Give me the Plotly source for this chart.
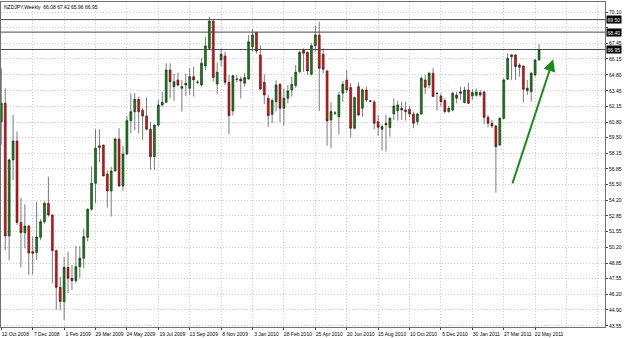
import pandas as pd
import plotly.graph_objects as go

start_date = "2008-10-12"
opens = [60.84, 62.39, 51.16, 57.6, 59.2, 52.3, 51.44, 52.0, 49.83, 49.75,
         51.05, 52.37, 53.92, 52.94, 49.92, 46.81, 45.6, 48.5, 47.58, 47.37,
         48.56, 49.27, 51.05, 53.42, 55.62, 58.64, 58.86, 56.41, 54.97, 56.66,
         59.37, 55.39, 58.1, 60.92, 61.68, 62.73, 61.8, 61.32, 60.2, 57.87,
         60.55, 62.25, 62.48, 65.21, 63.8, 64.37, 63.66, 63.94, 63.66, 64.65,
         64.2, 63.94, 65.55, 67.05, 69.36, 64.03, 66.06, 66.4, 64.17, 61.74,
         64.45, 64.45, 64.09, 64.45, 67.19, 68.4, 66.48, 64.17, 62.82, 61.46,
         62.53, 64.0, 61.97, 62.82, 63.52, 63.89, 65.07, 66.91, 66.71, 64.85,
         67.27, 68.18, 66.54, 65.13, 60.98, 61.55, 61.26, 63.24, 64.37, 63.72,
         60.28, 63.8, 61.97, 63.52, 62.6, 62.5, 60.84, 60.19, 60.7, 60.33,
         61.49, 61.77, 61.97, 61.83, 61.88, 61.49, 60.84, 61.49, 64.37, 63.94,
         64.93, 63.24, 63.01, 62.62, 61.69, 61.83, 63.1, 63.38, 62.45, 63.52,
         63.01, 63.07, 63.1, 63.35, 61.21, 60.7, 60.47, 58.86, 61.12, 64.42,
         66.49, 66.49, 65.44, 65.55, 63.66, 63.38, 64.79, 66.08]
highs = [65.36, 63.66, 57.7, 61.4, 60.0, 54.4, 53.84, 52.1, 51.1, 54.06,
         52.6, 54.1, 56.18, 53.0, 50.0, 47.71, 49.4, 49.83, 48.7, 50.31,
         50.3, 51.81, 53.5, 57.03, 60.19, 60.2, 58.9, 56.7, 57.0, 59.5,
         60.28, 58.8, 61.32, 63.24, 63.24, 62.95, 62.0, 62.9, 60.8, 60.6,
         62.7, 63.38, 65.78, 65.78, 64.9, 65.0, 64.37, 64.9, 65.36, 65.5,
         64.35, 66.2, 68.04, 69.73, 69.45, 65.86, 67.05, 66.77, 64.79, 64.8,
         64.79, 64.65, 64.93, 68.18, 68.69, 68.45, 67.3, 64.85, 63.1, 62.82,
         64.35, 64.1, 63.66, 63.94, 64.65, 65.64, 66.82, 67.05, 66.77, 67.47,
         68.97, 69.31, 67.05, 65.2, 62.48, 61.74, 63.38, 64.28, 65.2, 64.09,
         62.96, 64.17, 63.66, 63.8, 62.67, 62.67, 61.4, 60.6, 61.4, 61.25,
         62.8, 62.62, 62.53, 62.53, 62.17, 61.69, 61.6, 64.65, 64.79, 65.07,
         65.36, 63.38, 63.24, 62.82, 62.17, 63.38, 63.38, 63.8, 63.8, 64.14,
         63.58, 63.66, 63.52, 63.47, 61.4, 60.98, 60.56, 61.21, 64.51, 66.63,
         66.57, 66.57, 65.78, 65.64, 64.37, 65.07, 66.12, 67.42]
lows = [58.86, 49.97, 49.1, 55.9, 52.1, 48.5, 50.11, 47.86, 47.9, 49.1,
        50.8, 52.2, 52.8, 47.15, 44.9, 44.9, 44.05, 46.31, 46.6, 47.15,
        47.58, 48.42, 50.7, 53.3, 53.95, 57.4, 56.2, 53.56, 52.8, 56.6,
        55.3, 55.0, 58.0, 59.85, 60.1, 59.85, 59.29, 60.1, 56.75, 56.75,
        60.4, 62.1, 62.4, 62.82, 62.6, 63.8, 61.68, 63.0, 63.1, 62.96,
        64.0, 63.8, 65.2, 66.9, 64.23, 63.15, 65.5, 63.94, 59.77, 61.35,
        64.17, 62.8, 63.8, 64.4, 66.77, 66.62, 63.5, 62.31, 60.4, 60.7,
        61.69, 60.78, 60.5, 62.4, 62.96, 63.7, 64.93, 65.07, 64.79, 64.75,
        66.77, 61.74, 64.93, 58.81, 58.58, 61.4, 59.77, 62.53, 63.3, 59.48,
        60.2, 61.3, 61.26, 62.5, 62.48, 60.2, 59.63, 58.4, 58.3, 59.57,
        60.98, 60.93, 60.98, 60.93, 61.21, 60.28, 60.55, 61.4, 63.18, 63.66,
        62.96, 61.77, 62.11, 61.55, 61.6, 61.69, 62.39, 62.67, 62.39, 62.33,
        62.67, 62.96, 62.96, 60.64, 60.36, 60.28, 54.83, 58.78, 61.04, 64.37,
        64.37, 64.37, 64.65, 62.45, 63.1, 62.53, 64.65, 65.96]
closes = [62.39, 51.16, 57.6, 59.2, 52.3, 51.44, 52.0, 49.72, 49.69, 51.07,
          52.37, 53.92, 52.94, 49.92, 46.81, 45.6, 48.5, 47.58, 47.37, 48.56,
          49.27, 51.1, 53.42, 55.62, 58.58, 58.8, 56.24, 54.97, 56.66, 59.37,
          55.39, 58.1, 60.92, 61.68, 62.73, 61.68, 61.32, 60.2, 57.87, 60.55,
          62.24, 62.48, 65.21, 64.22, 64.22, 63.94, 63.8, 64.1, 64.65, 64.37,
          64.17, 65.78, 67.25, 69.36, 64.57, 65.02, 66.54, 64.17, 61.35, 64.73,
          64.42, 64.28, 64.57, 67.6, 68.18, 66.82, 63.6, 63.1, 61.35, 62.62,
          63.94, 61.97, 62.82, 63.44, 64.0, 65.02, 66.71, 66.63, 65.13, 67.27,
          68.18, 65.35, 65.27, 60.9, 61.69, 61.58, 63.1, 64.0, 63.52, 60.28,
          62.87, 61.4, 63.52, 62.67, 62.57, 60.7, 60.36, 60.42, 60.56, 61.12,
          62.17, 62.25, 61.83, 61.69, 61.49, 60.7, 61.49, 64.51, 63.75, 64.93,
          62.96, 63.22, 62.53, 61.69, 61.97, 63.24, 62.82, 63.24, 63.52, 62.39,
          63.3, 63.35, 63.3, 61.21, 60.7, 60.47, 58.72, 61.12, 64.37, 66.2,
          66.34, 65.5, 65.64, 63.58, 63.47, 64.93, 66.06, 66.95]

y_ticks = [70.10, 68.80, 67.45, 66.15, 64.80, 63.45, 62.15, 60.80, 59.50, 58.15,
           56.85, 55.50, 54.20, 52.85, 51.55, 50.20, 48.85, 47.55, 46.20, 44.90, 43.55]
hidden_ticks = [68.80]
levels = [69.48, 68.42, 66.95]
level_labels = ["69.50", "68.40", "66.95"]
title_text = "NZDJPY,Weekly  66.08 67.42 65.96 66.95"
arrow_from = (130.1, 55.48)   # (week index, price)
arrow_to = (140.6, 66.12)

dates = pd.date_range(start_date, periods=len(opens), freq="7D")
t0 = pd.Timestamp(start_date)
week = pd.Timedelta(weeks=1)

FONT = "Liberation Sans"

fig = go.Figure()
fig.add_trace(go.Candlestick(
    x=dates, open=opens, high=highs, low=lows, close=closes,
    increasing=dict(fillcolor="#008c00", line=dict(color="#222222", width=0.6)),
    decreasing=dict(fillcolor="#ff0000", line=dict(color="#222222", width=0.6)),
    whiskerwidth=0, showlegend=False, hoverinfo="skip",
))

for lv in levels:
    fig.add_shape(type="line", xref="paper", x0=0, x1=1, yref="y", y0=lv, y1=lv,
                  line=dict(color="#4a4a4a", width=1))
for lv, txt in zip(levels, level_labels):
    fig.add_annotation(xref="paper", x=1, xanchor="left", xshift=1, yref="y", y=lv,
                       text=txt, showarrow=False, bgcolor="#000000",
                       font=dict(family=FONT, size=5, color="#ffffff"), borderpad=0.5)

fig.add_annotation(xref="x", yref="y", axref="x", ayref="y",
                   x=t0 + arrow_to[0] * week, y=arrow_to[1],
                   ax=t0 + arrow_from[0] * week, ay=arrow_from[1],
                   showarrow=True, arrowhead=2, arrowsize=1.2, arrowwidth=2,
                   arrowcolor="#1a8c1a", text="")

tick_dates = list(dates[::8])
ytext = ["" if v in hidden_ticks else f"{v:.2f}" for v in y_ticks]
grid = "#c9c9de"
gdash = "1px,2px"

fig.update_layout(
    width=625, height=338,
    margin=dict(l=1, r=20, t=2, b=11),
    paper_bgcolor="#ffffff", plot_bgcolor="#ffffff",
    boxgap=0.3,
    title=dict(text=title_text, x=4 / 625, xanchor="left", xref="container",
               y=1 - 7 / 338, yanchor="middle", yref="container",
               font=dict(family=FONT, size=5, color="#000000")),
    xaxis=dict(
        type="date", rangeslider=dict(visible=False),
        range=[t0 - 0.08 * week, t0 + 153.8 * week],
        tickvals=tick_dates, tickformat="%-d %b %Y",
        ticks="outside", ticklen=2, tickcolor="#444",
        ticklabelshift=14, ticklabelstandoff=0,
        tickfont=dict(family=FONT, size=5, color="#000"),
        showgrid=True, gridcolor=grid, griddash=gdash, gridwidth=1,
        minor=dict(tick0=start_date, dtick=8 * 7 * 86400000, showgrid=True,
                   gridcolor=grid, griddash=gdash, gridwidth=1),
        showline=True, linecolor="#707070", linewidth=1, mirror=True,
        zeroline=False, fixedrange=True,
    ),
    yaxis=dict(
        side="right", range=[43.45, 70.97],
        tickvals=y_ticks, ticktext=ytext,
        ticks="outside", ticklen=2, tickcolor="#444",
        tickfont=dict(family=FONT, size=5, color="#000"),
        showgrid=True, gridcolor=grid, griddash=gdash, gridwidth=1,
        showline=True, linecolor="#707070", linewidth=1, mirror=True,
        zeroline=False, fixedrange=True,
    ),
)

fig.write_html("out.html")
